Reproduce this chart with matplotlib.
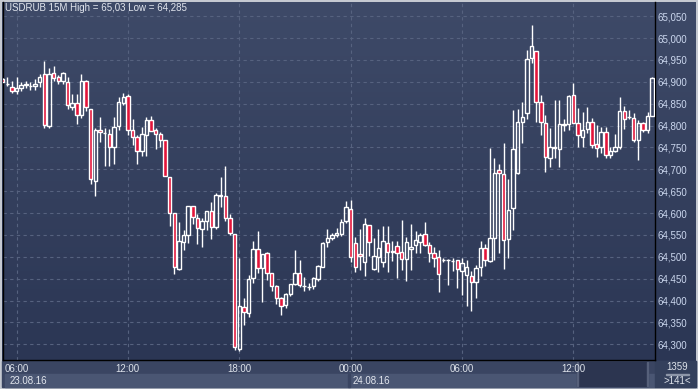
import matplotlib.pyplot as plt
import matplotlib.ticker as mticker
import numpy as np
import pandas as pd

# USDRUB 15M candles, 23.08.16 05:15 -> 24.08.16 16:15 (141 bars)
open_ = [64.907, 64.895, 64.889, 64.880, 64.885, 64.892, 64.890, 64.891, 64.899, 64.917,
         64.799, 64.920, 64.910, 64.901, 64.899, 64.843, 64.851, 64.825, 64.903, 64.838,
         64.673, 64.791, 64.783, 64.780, 64.750, 64.798, 64.851, 64.868, 64.789, 64.773,
         64.741, 64.779, 64.812, 64.789, 64.780, 64.766, 64.682, 64.600, 64.473, 64.533,
         64.549, 64.616, 64.588, 64.563, 64.581, 64.604, 64.567, 64.640, 64.640, 64.588,
         64.551, 64.289, 64.385, 64.371, 64.452, 64.517, 64.474, 64.508, 64.462, 64.434,
         64.405, 64.390, 64.416, 64.437, 64.463, 64.433, 64.432, 64.434, 64.449, 64.477,
         64.533, 64.544, 64.549, 64.551, 64.581, 64.609, 64.531, 64.506, 64.487, 64.572,
         64.472, 64.499, 64.489, 64.531, 64.514, 64.525, 64.510, 64.494, 64.517, 64.527,
         64.534, 64.552, 64.527, 64.508, 64.499, 64.493, 64.493, 64.491, 64.492, 64.468,
         64.458, 64.455, 64.443, 64.476, 64.521, 64.490, 64.542, 64.699, 64.689, 64.540,
         64.611, 64.691, 64.809, 64.828, 64.954, 64.970, 64.853, 64.805, 64.727, 64.750,
         64.747, 64.802, 64.804, 64.869, 64.805, 64.775, 64.792, 64.809, 64.757, 64.750,
         64.786, 64.733, 64.743, 64.752, 64.833, 64.819, 64.817, 64.766, 64.805, 64.790,
         64.823]
high = [64.909, 64.910, 64.902, 64.911, 64.899, 64.902, 64.900, 64.907, 64.917, 64.948,
        64.932, 64.936, 64.916, 64.922, 64.911, 64.873, 64.873, 64.917, 64.904, 64.838,
        64.794, 64.820, 64.795, 64.792, 64.820, 64.865, 64.875, 64.872, 64.814, 64.779,
        64.797, 64.820, 64.821, 64.795, 64.786, 64.767, 64.682, 64.600, 64.580, 64.561,
        64.616, 64.616, 64.597, 64.588, 64.604, 64.625, 64.647, 64.683, 64.708, 64.598,
        64.552, 64.497, 64.405, 64.458, 64.537, 64.559, 64.506, 64.511, 64.463, 64.436,
        64.409, 64.418, 64.438, 64.516, 64.492, 64.453, 64.440, 64.453, 64.481, 64.534,
        64.563, 64.554, 64.566, 64.586, 64.628, 64.630, 64.545, 64.563, 64.588, 64.573,
        64.543, 64.564, 64.570, 64.570, 64.537, 64.537, 64.584, 64.545, 64.575, 64.560,
        64.555, 64.580, 64.534, 64.522, 64.516, 64.497, 64.494, 64.498, 64.492, 64.498,
        64.493, 64.468, 64.481, 64.537, 64.529, 64.748, 64.725, 64.712, 64.760, 64.677,
        64.836, 64.837, 64.853, 64.973, 65.030, 64.970, 64.870, 64.824, 64.795, 64.859,
        64.859, 64.814, 64.870, 64.897, 64.840, 64.830, 64.843, 64.817, 64.801, 64.797,
        64.797, 64.752, 64.781, 64.865, 64.845, 64.836, 64.828, 64.813, 64.809, 64.832,
        64.910]
low = [64.899, 64.890, 64.874, 64.872, 64.878, 64.885, 64.882, 64.882, 64.888, 64.794,
       64.795, 64.902, 64.896, 64.894, 64.838, 64.836, 64.804, 64.817, 64.833, 64.666,
       64.638, 64.762, 64.708, 64.708, 64.712, 64.790, 64.846, 64.779, 64.756, 64.713,
       64.731, 64.731, 64.787, 64.746, 64.750, 64.684, 64.570, 64.461, 64.470, 64.516,
       64.531, 64.574, 64.529, 64.523, 64.561, 64.540, 64.564, 64.614, 64.582, 64.550,
       64.287, 64.285, 64.344, 64.362, 64.441, 64.462, 64.396, 64.446, 64.422, 64.392,
       64.367, 64.382, 64.410, 64.435, 64.431, 64.422, 64.424, 64.426, 64.445, 64.477,
       64.522, 64.538, 64.546, 64.548, 64.577, 64.488, 64.465, 64.470, 64.456, 64.502,
       64.470, 64.466, 64.477, 64.466, 64.490, 64.451, 64.470, 64.445, 64.470, 64.508,
       64.508, 64.525, 64.487, 64.477, 64.420, 64.488, 64.436, 64.468, 64.429, 64.413,
       64.388, 64.377, 64.405, 64.455, 64.479, 64.488, 64.493, 64.508, 64.471, 64.497,
       64.561, 64.689, 64.761, 64.815, 64.942, 64.809, 64.779, 64.695, 64.706, 64.726,
       64.705, 64.788, 64.790, 64.805, 64.752, 64.750, 64.783, 64.749, 64.728, 64.738,
       64.725, 64.726, 64.740, 64.746, 64.792, 64.816, 64.763, 64.721, 64.786, 64.782,
       64.823]
close = [64.900, 64.896, 64.878, 64.886, 64.892, 64.896, 64.890, 64.895, 64.911, 64.802,
         64.917, 64.908, 64.901, 64.920, 64.847, 64.851, 64.824, 64.902, 64.842, 64.678,
         64.791, 64.786, 64.784, 64.750, 64.796, 64.853, 64.865, 64.789, 64.775, 64.741,
         64.780, 64.812, 64.787, 64.780, 64.766, 64.684, 64.600, 64.476, 64.536, 64.549,
         64.616, 64.590, 64.565, 64.581, 64.604, 64.567, 64.641, 64.641, 64.588, 64.554,
         64.293, 64.388, 64.373, 64.450, 64.517, 64.474, 64.506, 64.462, 64.433, 64.406,
         64.388, 64.416, 64.437, 64.462, 64.435, 64.433, 64.432, 64.451, 64.479, 64.531,
         64.542, 64.549, 64.554, 64.580, 64.613, 64.500, 64.477, 64.501, 64.575, 64.533,
         64.502, 64.520, 64.536, 64.510, 64.512, 64.508, 64.494, 64.533, 64.523, 64.538,
         64.550, 64.527, 64.508, 64.497, 64.460, 64.493, 64.493, 64.490, 64.471, 64.485,
         64.477, 64.443, 64.474, 64.521, 64.492, 64.542, 64.691, 64.691, 64.538, 64.607,
         64.746, 64.808, 64.819, 64.952, 64.981, 64.854, 64.808, 64.729, 64.750, 64.749,
         64.803, 64.803, 64.867, 64.805, 64.779, 64.789, 64.808, 64.756, 64.748, 64.786,
         64.733, 64.743, 64.752, 64.833, 64.814, 64.819, 64.767, 64.805, 64.790, 64.823,
         64.908]

title = 'USDRUB 15M High = 65,03 Low = 64,285'
price_ticks = np.arange(64.30, 65.051, 0.05)
times = pd.date_range('2016-08-23 05:15', periods=len(close), freq='15min')

W, H = 698, 389
fig = plt.figure(figsize=(W / 100, H / 100), dpi=100)
fig.patch.set_facecolor('#c5c9d1')
plt.rcParams['font.family'] = ['Liberation Sans', 'DejaVu Sans']


def fx(x):
    return x / W


def fy(y):
    return 1 - y / H


def box(x0, y0, x1, y1, color, z=0):
    fig.patches.append(plt.Rectangle((fx(x0), fy(y1)), fx(x1) - fx(x0), fy(y0) - fy(y1),
                                     transform=fig.transFigure, color=color, zorder=z))


# gradient background behind plot and price scale
bg = fig.add_axes([fx(2), fy(361), fx(696) - fx(2), fy(2) - fy(361)], zorder=0)
top = np.array([62, 74, 104]) / 255
bot = np.array([43, 54, 84]) / 255
t = np.linspace(0, 1, 256)[:, None, None]
bg.imshow(top + (bot - top) * t, aspect='auto', extent=[0, 1, 0, 1])
bg.axis('off')

# time axis panel
box(2, 361, 696, 387, '#3a4562')
box(5, 374, 655, 387, '#4a5673')
box(348, 374, 350, 387, '#3a4562')
box(577, 362, 648, 386, '#2c3550')
box(577, 362, 578, 386, '#56607a')
box(647, 362, 648, 386, '#56607a')
box(655, 361, 696, 387, '#34405c')

ax = fig.add_axes([fx(3), fy(360), fx(655) - fx(3), fy(2) - fy(360)], zorder=1)
ax.set_facecolor('none')

o = np.array(open_)
h = np.array(high)
l = np.array(low)
c = np.array(close)
k = np.arange(len(c))
lo = np.minimum(o, c)
hi = np.maximum(o, c)
bull = c >= o

ax.vlines(k, hi, h, color='white', lw=1, zorder=3)
ax.vlines(k, l, lo, color='white', lw=1, zorder=3)
ax.bar(k, hi - lo, bottom=lo, width=0.74,
       color=np.where(bull, 'none', '#e3143a'), edgecolor='white', lw=1.0, zorder=4)

ax.set_xlim(0.09, 140.6)
ax.set_ylim(64.264, 65.0826)

xt = [i for i, ts in enumerate(times) if ts.minute == 0 and ts.hour % 6 == 0]
ax.set_xticks(xt)
ax.set_xticklabels([times[i].strftime('%H:%M') for i in xt])
ax.set_yticks(price_ticks)
ax.yaxis.set_major_formatter(mticker.FuncFormatter(lambda v, p: f'{v:.3f}'.replace('.', ',')))
ax.yaxis.tick_right()
ax.set_axisbelow(True)
ax.grid(color='#56627f', ls=(0, (3, 3)), lw=0.8)
ax.tick_params(axis='y', length=0, pad=1.5, labelsize=7, labelcolor='#cbd7ee')
ax.tick_params(axis='x', length=0, pad=3.2, labelsize=7, labelcolor='#dde2ea')
for s in ['left', 'right', 'bottom']:
    ax.spines[s].set_color('black')
    ax.spines[s].set_linewidth(1)
ax.spines['top'].set_visible(False)

fig.text(fx(5), fy(8), title, fontsize=7, color='#e2e6ee', va='center', ha='left')

day_starts = [0] + [i for i, ts in enumerate(times) if ts.hour == 0 and ts.minute == 0]
for i, xpos in zip(day_starts, [10, 353]):
    fig.text(fx(xpos), fy(380.5), times[i].strftime('%d.%m.%y'), fontsize=7,
             color='#e2e6ee', va='center', ha='left')

fig.text(fx(677), fy(367), '1359', fontsize=7, color='#dde2ea', va='center', ha='center')
box(666, 373.5, 689, 374.5, '#8d96a8', z=2)
fig.text(fx(677), fy(381.5), '>141<', fontsize=7, color='#dde2ea', va='center', ha='center')

fig.savefig('out.png', dpi=100, facecolor=fig.get_facecolor())
